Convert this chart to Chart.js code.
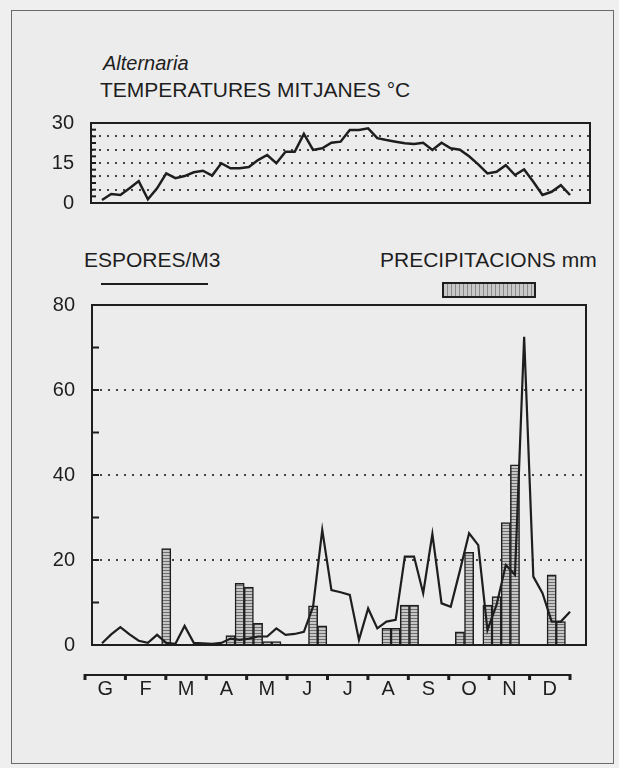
<!DOCTYPE html>
<html lang="ca">
<head>
<meta charset="utf-8">
<title>Alternaria</title>
<script src="https://cdn.jsdelivr.net/npm/chart.js@4.4.1/dist/chart.umd.min.js"></script>
<style>
  html, body { margin: 0; padding: 0; background: #efefef; }
  #pagina { position: relative; width: 619px; height: 768px; overflow: hidden;
            font-family: "Liberation Sans", Arial, Helvetica, sans-serif; color: #1e1e1e; }
  .marc { position: absolute; left: 11px; top: 10px; width: 601px; height: 752px;
          border: 1px solid #6a6a6a; background: #ececec; }
  .text { position: absolute; line-height: 1; white-space: nowrap; }
  canvas { position: absolute; left: 0; top: 0; }
  .llegenda-linia { position: absolute; left: 101px; top: 283px; width: 107px; height: 2px; background: #1e1e1e; }
  .llegenda-barra { position: absolute; left: 442px; top: 282px; width: 90px; height: 12px;
                    border: 2px solid #1e1e1e;
                    background: repeating-linear-gradient(90deg, #c8c8c8 0 3px, #8a8a8a 3px 4px); }
</style>
</head>
<body>
<div id="pagina">
  <div class="marc"></div>
  <div class="text" style="left:103px; top:53px; font-size:20px; font-style:italic;">Alternaria</div>
  <div class="text" style="left:100px; top:79px; font-size:21px;">TEMPERATURES MITJANES °C</div>
  <div class="text" style="left:84px; top:249px; font-size:21px;">ESPORES/M3</div>
  <div class="llegenda-linia"></div>
  <div class="text" style="left:380px; top:249px; font-size:21px;">PRECIPITACIONS mm</div>
  <div class="llegenda-barra"></div>
  <canvas id="grafTemperatura" width="619" height="768"></canvas>
  <canvas id="grafEspores" width="619" height="768"></canvas>
</div>

<script>
// DADES (llegides del gràfic, una dada per setmana)

const setmanes = Array.from({ length: 52 }, (_, i) => i + 1);

const mesos = ['G', 'F', 'M', 'A', 'M', 'J', 'J', 'A', 'S', 'O', 'N', 'D'];

const temperatures = [
    1.1, 3.4, 3.0, 5.5, 8.2, 1.4, 5.5, 11.1, 9.3, 10.1,
    11.5, 12.1, 10.3, 14.9, 13.0, 13.0, 13.5, 16.1, 18.0, 14.9,
    19.2, 19.2, 25.9, 19.9, 20.5, 22.6, 23.0, 27.4, 27.4, 28.0,
    24.3, 23.6, 23.0, 22.4, 22.1, 22.6, 19.9, 22.6, 20.5, 20.0,
    17.5, 14.5, 11.1, 11.7, 14.2, 10.5, 12.6, 8.0, 3.0, 4.2,
    6.7, 3.0
];

const espores = [
    0.4, 2.5, 4.2, 2.5, 1.0, 0.5, 2.4, 0.5, 0.3, 4.5,
    0.5, 0.4, 0.3, 0.5, 1.5, 1.2, 1.5, 2.0, 2.0, 3.9,
    2.4, 2.6, 3.1, 9.0, 27.1, 12.9, 12.4, 11.8, 1.2, 8.6,
    3.9, 5.5, 5.9, 20.8, 20.8, 12.2, 26.1, 9.8, 9.0, 17.5,
    26.3, 23.5, 3.5, 9.5, 18.8, 16.5, 72.5, 16.1, 12.2, 5.5,
    5.5, 7.8
];

const precipitacions = [
    0, 0, 0, 0, 0, 0, 0, 22.7, 0, 0,
    0, 0, 0, 0, 2.2, 14.5, 13.6, 5.1, 0.8, 0.8,
    0, 0, 0, 9.2, 4.5, 0, 0, 0, 0, 0,
    0, 3.9, 3.9, 9.4, 9.4, 0, 0, 0, 0, 3.1,
    21.8, 0, 9.4, 11.4, 28.8, 42.4, 0, 0, 0, 16.5,
    5.5, 0
];

const ticksTemperatura = [0, 15, 30];
const ticksEspores = [0, 20, 40, 60, 80];

// ESTIL

const colorTinta = '#1e1e1e';
const colorPunts = '#444';
Chart.defaults.font.family = '"Liberation Sans", Arial, Helvetica, sans-serif';
Chart.defaults.color = colorTinta;

// trama de les barres de precipitació
function crearTrama() {
    const c = document.createElement('canvas');
    c.width = 4;
    c.height = 3;
    const g = c.getContext('2d');
    g.fillStyle = '#c6c6c6';
    g.fillRect(0, 0, 4, 3);
    g.fillStyle = '#6e6e6e';
    g.fillRect(0, 0, 4, 1);
    return g.createPattern(c, 'repeat');
}

// marc del gràfic, marques interiors de l'eix Y i eix dels mesos
const pluginMarc = {
    id: 'marc',
    afterDatasetsDraw(chart, args, opts) {
        const ctx = chart.ctx;
        const a = chart.chartArea;
        ctx.save();
        ctx.strokeStyle = colorTinta;
        ctx.lineWidth = 2;
        ctx.strokeRect(a.left, a.top, a.right - a.left, a.bottom - a.top);

        const y = chart.scales.y;
        (opts.marques || []).forEach(v => {
            const py = y.getPixelForValue(v);
            ctx.beginPath();
            ctx.moveTo(a.left, py);
            ctx.lineTo(a.left + opts.llargMarca, py);
            ctx.stroke();
        });

        const xm = chart.scales.xm;
        if (xm) {
            const py = a.bottom + 30;
            ctx.lineWidth = 2;
            ctx.beginPath();
            ctx.moveTo(xm.getPixelForValue(0), py);
            ctx.lineTo(xm.getPixelForValue(mesos.length), py);
            ctx.stroke();
            ctx.lineWidth = 3;
            for (let m = 0; m <= mesos.length; m++) {
                const px = xm.getPixelForValue(m);
                ctx.beginPath();
                ctx.moveTo(px, py - 1);
                ctx.lineTo(px, py + 5);
                ctx.stroke();
            }
        }
        ctx.restore();
    }
};

// GRÀFIC 1: TEMPERATURES MITJANES

new Chart(document.getElementById('grafTemperatura'), {
    type: 'line',
    data: {
        datasets: [{
            data: setmanes.map((s, i) => ({ x: s, y: temperatures[i] })),
            borderColor: colorTinta,
            borderWidth: 2.5,
            pointRadius: 0,
            tension: 0,
            fill: false
        }]
    },
    options: {
        responsive: false,
        animation: false,
        devicePixelRatio: 1,
        layout: { padding: { top: 123, right: 29, bottom: 565, left: 0 } },
        plugins: {
            legend: { display: false },
            tooltip: { enabled: false },
            marc: { marques: [2.5, 5, 7.5, 10, 12.5, 15, 17.5, 20, 22.5, 25, 27.5], llargMarca: 5 }
        },
        scales: {
            x: {
                type: 'linear',
                display: false,
                offset: false,
                min: -0.2,
                max: 54.18
            },
            y: {
                min: 0,
                max: 30,
                afterFit: function(scale) { scale.width = 91; },
                ticks: {
                    stepSize: 5,
                    autoSkip: false,
                    padding: 17,
                    font: { size: 20 },
                    color: colorTinta,
                    callback: function(value) {
                        return ticksTemperatura.includes(value) ? value : '';
                    }
                },
                grid: {
                    drawTicks: false,
                    lineWidth: 2,
                    color: function(context) {
                        const v = context.tick.value;
                        return (v > 0 && v < 30) ? colorPunts : 'transparent';
                    }
                },
                border: { display: false, dash: [2, 6] }
            }
        }
    },
    plugins: [pluginMarc]
});

// GRÀFIC 2: ESPORES I PRECIPITACIONS

new Chart(document.getElementById('grafEspores'), {
    type: 'bar',
    data: {
        datasets: [
            {
                type: 'line',
                label: 'ESPORES/M3',
                data: setmanes.map((s, i) => ({ x: s, y: espores[i] })),
                borderColor: colorTinta,
                borderWidth: 2.2,
                pointRadius: 0,
                tension: 0,
                fill: false,
                order: 0
            },
            {
                type: 'bar',
                label: 'PRECIPITACIONS mm',
                data: setmanes.map((s, i) => ({ x: s, y: precipitacions[i] })),
                backgroundColor: crearTrama(),
                borderColor: colorTinta,
                borderWidth: 1.5,
                barPercentage: 1,
                categoryPercentage: 1,
                order: 1
            }
        ]
    },
    options: {
        responsive: false,
        animation: false,
        devicePixelRatio: 1,
        layout: { padding: { top: 305, right: 33, bottom: 0, left: 0 } },
        plugins: {
            legend: { display: false },
            tooltip: { enabled: false },
            marc: { marques: [10, 20, 30, 40, 50, 60, 70], llargMarca: 7 }
        },
        scales: {
            x: {
                type: 'linear',
                display: false,
                offset: false,
                min: -0.09,
                max: 53.74
            },
            xm: {
                type: 'linear',
                position: 'bottom',
                offset: false,
                min: 0.173,
                max: 12.396,
                afterFit: function(scale) { scale.height = 123; },
                afterBuildTicks: function(scale) {
                    scale.ticks = mesos.map((m, i) => ({ value: i + 0.5 }));
                },
                ticks: {
                    padding: 32,
                    autoSkip: false,
                    maxRotation: 0,
                    font: { size: 20 },
                    color: colorTinta,
                    callback: function(value, index) {
                        return mesos[index];
                    }
                },
                grid: { display: false, drawTicks: false },
                border: { display: false }
            },
            y: {
                min: 0,
                max: 80,
                afterFit: function(scale) { scale.width = 92; },
                afterBuildTicks: function(scale) {
                    scale.ticks = ticksEspores.map(v => ({ value: v }));
                },
                ticks: {
                    autoSkip: false,
                    padding: 17,
                    font: { size: 20 },
                    color: colorTinta
                },
                grid: {
                    drawTicks: false,
                    lineWidth: 2,
                    color: function(context) {
                        const v = context.tick.value;
                        return (v > 0 && v < 80) ? colorPunts : 'transparent';
                    }
                },
                border: { display: false, dash: [2, 6] }
            }
        }
    },
    plugins: [pluginMarc]
});
</script>
</body>
</html>
